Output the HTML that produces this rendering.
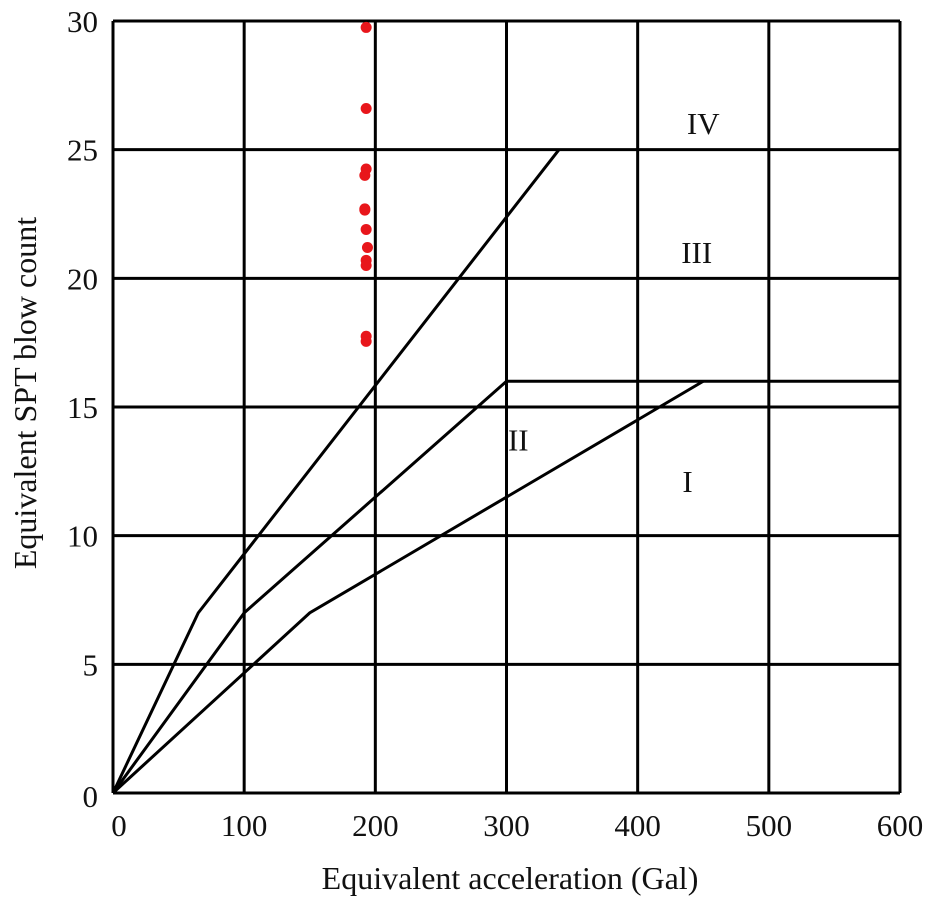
<!DOCTYPE html>
<html><head><meta charset="utf-8"><style>
body{margin:0;background:#fff}
svg text{font-family:"Liberation Serif",serif;fill:#111}
</style></head><body>
<svg id="chart" width="930" height="908"></svg>
<script>
const xTicks=[0,100,200,300,400,500,600];
const yTicks=[0,5,10,15,20,25,30];
const boundaryIV=[[0,0],[65,7],[340,25]];
const boundaryIII=[[0,0],[100,7],[300,16],[600,16]];
const boundaryII=[[0,0],[150,7],[450,16]];
const pointsX=[193,193,193,192,192,192,193,194,193,193,193,193];
const pointsY=[29.75,26.6,24.25,24.0,22.7,22.65,21.9,21.2,20.7,20.5,17.75,17.55];
const zoneLabels=["IV","III","II","I"];
const zoneX=[450,445,309,438];
const zoneY=[25.6,20.6,13.3,11.7];

const NS="http://www.w3.org/2000/svg";
const svg=document.getElementById('chart');
const X=v=>113+v/600*787;
const Y=v=>793-v/30*772;
function el(t,a,p){const e=document.createElementNS(NS,t);for(const k in a)e.setAttribute(k,a[k]);(p||svg).appendChild(e);return e;}
xTicks.forEach((t,i)=>{
  const l=el('line',{x1:X(t),x2:X(t),y1:Y(0),y2:Y(30),stroke:'#000','stroke-width':3});
  
  
  const tx=el('text',{x:X(t)+(t===0?6:0),y:836,'font-size':31,'text-anchor':'middle'});tx.textContent=t;
  
  
});
yTicks.forEach(t=>{
  const l=el('line',{x1:X(0),x2:X(600),y1:Y(t),y2:Y(t),stroke:'#000','stroke-width':3});
  
  
  const tx=el('text',{x:98,y:Y(t)+11+(t===0?3:0),'font-size':31,'text-anchor':'end'});tx.textContent=t;
  
  
});
[boundaryIV,boundaryIII,boundaryII].forEach((b,i)=>{
  const p=el('polyline',{points:b.map(q=>X(q[0])+','+Y(q[1])).join(' '),fill:'none',stroke:'#000','stroke-width':3});
  
  
});
pointsX.forEach((v,i)=>{
  const c=el('circle',{cx:X(v),cy:Y(pointsY[i]),r:5.5,fill:'#e8161b'});
  
  
});
zoneLabels.forEach((s,i)=>{
  const t=el('text',{x:X(zoneX[i]),y:Y(zoneY[i]),'font-size':31,'text-anchor':'middle'});t.textContent=s;
  
  
});
const xt=el('text',{x:510,y:889,'font-size':32,'text-anchor':'middle'});xt.textContent='Equivalent acceleration (Gal)';


const yt=el('text',{x:0,y:0,'font-size':32,'text-anchor':'middle',transform:'translate(36,393) rotate(-90)'});yt.textContent='Equivalent SPT blow count';


</script>
</body></html>
